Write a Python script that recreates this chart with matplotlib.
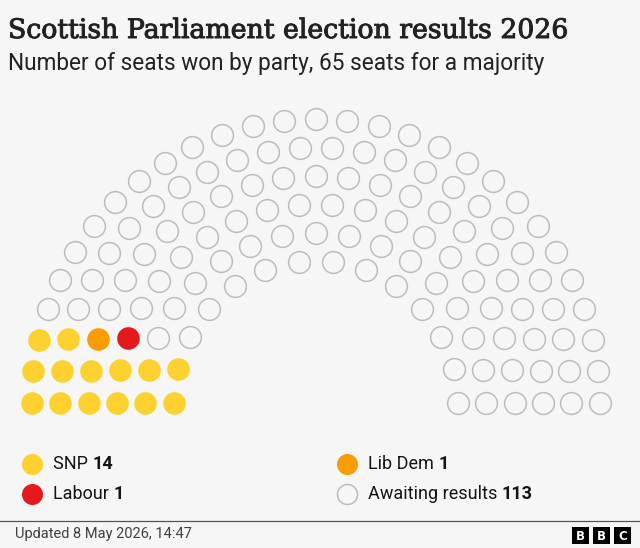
import numpy as np
import matplotlib.pyplot as plt
import matplotlib.patheffects as pe
from matplotlib.patches import Rectangle

# data
parties = ["SNP", "Lib Dem", "Labour", "Awaiting results"]
seats = [14, 1, 1, 113]
colours = ["#fdd130", "#fa9c00", "#e5191a", "none"]

title = "Scottish Parliament election results 2026"
subtitle = "Number of seats won by party, 65 seats for a majority"
updated = "Updated 8 May 2026, 14:47"

# hemicycle layout: seats per ring, inner to outer
ring_sizes = [14, 17, 20, 23, 26, 29]

BG = "#f6f6f6"
EDGE = "#bdbdbd"
SANS = ["Roboto", "DejaVu Sans"]
SERIF = ["DejaVu Serif"]


def px_to_s(d):
    # marker diameter in pixels -> scatter size in points^2 (dpi 100)
    return (d * 72 / 100) ** 2


fig = plt.figure(figsize=(6.4, 5.48), dpi=100, facecolor=BG)
ax = fig.add_axes([0, 0, 1, 1])
ax.set_xlim(0, 640)
ax.set_ylim(548, 0)
ax.set_facecolor(BG)
ax.axis("off")

# seat positions, ordered left to right by angle
cx, cy = 315.7, 403
radii = np.linspace(142, 284, len(ring_sizes))
angs, rs = [], []
for n, r in zip(ring_sizes, radii):
    angs.append(np.linspace(np.pi, 0, n))
    rs.append(np.full(n, r))
angs = np.concatenate(angs)
rs = np.concatenate(rs)
order = np.lexsort((-rs, -angs))
sx = cx + rs[order] * np.cos(angs[order])
sy = cy - rs[order] * np.sin(angs[order])

owner = np.repeat(np.arange(len(parties)), seats)
for i, (name, col) in enumerate(zip(parties, colours)):
    m = owner == i
    if col == "none":
        ax.scatter(sx[m], sy[m], s=px_to_s(21.8), facecolor=BG,
                   edgecolor=EDGE, linewidth=1.1, zorder=3)
    else:
        ax.scatter(sx[m], sy[m], s=px_to_s(22.6), color=col,
                   linewidth=0, zorder=3)

# titles
t1 = ax.text(8, 38, title, family=SERIF, fontsize=20, color="#222222",
             va="baseline", ha="left",
             path_effects=[pe.withStroke(linewidth=0.7, foreground="#222222")])
t2 = ax.text(8, 70, subtitle, family=SANS, fontsize=15, color="#222222",
             va="baseline", ha="left")
ft = ax.text(15, 538, updated, family=SANS, fontsize=9, color="#404040",
             va="baseline", ha="left")

fig.canvas.draw()
renderer = fig.canvas.get_renderer()


def fit_width(txt, target):
    w = txt.get_window_extent(renderer).width
    txt.set_fontsize(txt.get_fontsize() * target / w)


fit_width(t1, 559)
fit_width(t2, 539)
fit_width(ft, 178)

# legend, row-major in two columns
leg_x = [32, 347]
leg_y = [464, 494]
for i, (name, col, n) in enumerate(zip(parties, colours, seats)):
    x = leg_x[i % 2]
    y = leg_y[i // 2]
    if col == "none":
        ax.scatter([x], [y], s=px_to_s(20), facecolor=BG, edgecolor=EDGE,
                   linewidth=1.1, zorder=3)
    else:
        ax.scatter([x], [y], s=px_to_s(21), color=col, linewidth=0, zorder=3)
    lab = ax.text(x + 21, y + 5, name + " ", family=SANS, fontsize=13,
                  color="#141414", va="baseline", ha="left")
    fig.canvas.draw()
    bb = lab.get_window_extent(renderer)
    ax.text(x + 21 + bb.width, y + 5, str(n), family=SANS, fontsize=13,
            fontweight="bold", color="#141414", va="baseline", ha="left")

# footer
ax.plot([0, 640], [520.5, 520.5], color="#555555", linewidth=0.9)
for k, letter in enumerate("BBC"):
    x0 = 572 + k * 21
    ax.add_patch(Rectangle((x0, 527), 17, 17, color="black", linewidth=0))
    ax.text(x0 + 8.5, 536, letter, family=["DejaVu Sans"], fontsize=8.5,
            fontweight="bold", color="white", ha="center", va="center")

fig.savefig("out.png", dpi=100, facecolor=BG)
